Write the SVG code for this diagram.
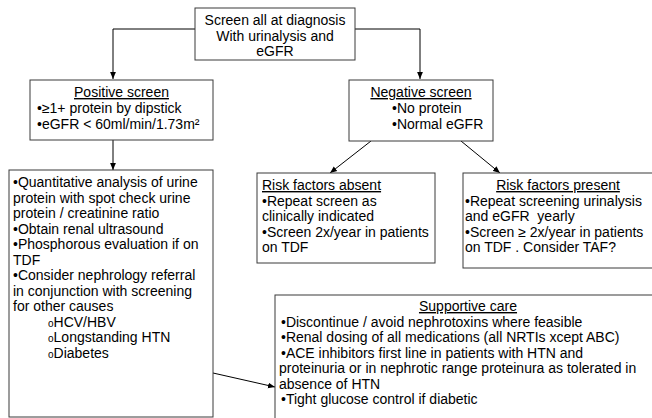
<svg xmlns="http://www.w3.org/2000/svg" width="652" height="418" viewBox="0 0 652 418">
  <defs>
    <marker id="arrow" markerUnits="userSpaceOnUse" markerWidth="7" markerHeight="7" viewBox="0 0 7 7" refX="7" refY="3.5" orient="auto">
      <path d="M0,0.6 L7,3.5 L0,6.4 Z" fill="#000"/>
    </marker>
    <style>
      .box { fill: #fff; stroke: #3a3a3a; stroke-width: 1; }
      .t { font-family: "Liberation Sans", Arial, sans-serif; font-size: 14px; fill: #000; }
      .c { text-anchor: middle; }
      .u { text-decoration: underline; }
      .pre { white-space: pre; }
      .sub { font-size: 10px; }
      .link { fill: none; stroke: #000; stroke-width: 1; marker-end: url(#arrow); }
    </style>
  </defs>
  <rect width="652" height="418" fill="#fff"/>

  <g id="connectors">
    <path class="link" d="M195,29 H113 V79"/>
    <path class="link" d="M355,29 H420 V79"/>
    <path class="link" d="M113,140 V170"/>
    <path class="link" d="M371,141 L330,173"/>
    <path class="link" d="M461,141 L500,173"/>
    <path class="link" d="M213,373 L275,387"/>
  </g>

  <g id="screen-all">
    <rect class="box" x="195" y="8" width="160" height="52"/>
    <text class="t c" x="275" y="25">Screen all at diagnosis</text>
    <text class="t c" x="275" y="40.5">With urinalysis and</text>
    <text class="t c" x="275" y="56">eGFR</text>
  </g>

  <g id="positive-screen">
    <rect class="box" x="30" y="80" width="183" height="60"/>
    <text class="t c u" x="121.5" y="97">Positive screen</text>
    <text class="t" x="37" y="113">•≥1+ protein by dipstick</text>
    <text class="t" x="37" y="128.5">•eGFR &lt; 60ml/min/1.73m²</text>
  </g>

  <g id="negative-screen">
    <rect class="box" x="349" y="80" width="144" height="61"/>
    <text class="t c u" x="421" y="97">Negative screen</text>
    <text class="t" x="392" y="113">•No protein</text>
    <text class="t" x="392" y="128.5">•Normal eGFR</text>
  </g>

  <g id="workup">
    <rect class="box" x="9" y="170" width="204" height="247"/>
    <text class="t" x="13" y="187">•Quantitative analysis of urine</text>
    <text class="t" x="13" y="202.5">protein with spot check urine</text>
    <text class="t" x="13" y="218">protein / creatinine ratio</text>
    <text class="t" x="13" y="233.5">•Obtain renal ultrasound</text>
    <text class="t" x="13" y="249">•Phosphorous evaluation if on</text>
    <text class="t" x="13" y="264.5">TDF</text>
    <text class="t" x="13" y="280">•Consider nephrology referral</text>
    <text class="t" x="13" y="295.5">in conjunction with screening</text>
    <text class="t" x="13" y="311">for other causes</text>
    <text class="t" x="48" y="326.5"><tspan class="sub">o</tspan>HCV/HBV</text>
    <text class="t" x="48" y="342"><tspan class="sub">o</tspan>Longstanding HTN</text>
    <text class="t" x="48" y="357.5"><tspan class="sub">o</tspan>Diabetes</text>
  </g>

  <g id="risk-absent">
    <rect class="box" x="257" y="173" width="178" height="90"/>
    <text class="t u" x="262" y="190">Risk factors absent</text>
    <text class="t" x="262" y="205.5">•Repeat screen as</text>
    <text class="t" x="262" y="221">clinically indicated</text>
    <text class="t" x="262" y="236.5">•Screen 2x/year in patients</text>
    <text class="t" x="262" y="252">on TDF</text>
  </g>

  <g id="risk-present">
    <rect class="box" x="463" y="173" width="200" height="95"/>
    <text class="t c u" x="558" y="190">Risk factors present</text>
    <text class="t" x="465" y="205.5">•Repeat screening urinalysis</text>
    <text class="t pre" x="465" y="221">and eGFR  yearly</text>
    <text class="t" x="465" y="236.5">•Screen ≥ 2x/year in patients</text>
    <text class="t" x="465" y="252">on TDF . Consider TAF?</text>
  </g>

  <g id="supportive-care">
    <rect class="box" x="275" y="295" width="400" height="130"/>
    <text class="t c u" x="468" y="311">Supportive care</text>
    <text class="t" x="281" y="326.5">•Discontinue / avoid nephrotoxins where feasible</text>
    <text class="t" x="281" y="342">•Renal dosing of all medications (all NRTIs xcept ABC)</text>
    <text class="t" x="281" y="357.5">•ACE inhibitors first line in patients with HTN and</text>
    <text class="t" x="279" y="373">proteinuria or in nephrotic range proteinura as tolerated in</text>
    <text class="t" x="279" y="388.5">absence of HTN</text>
    <text class="t" x="281" y="404">•Tight glucose control if diabetic</text>
  </g>
</svg>
